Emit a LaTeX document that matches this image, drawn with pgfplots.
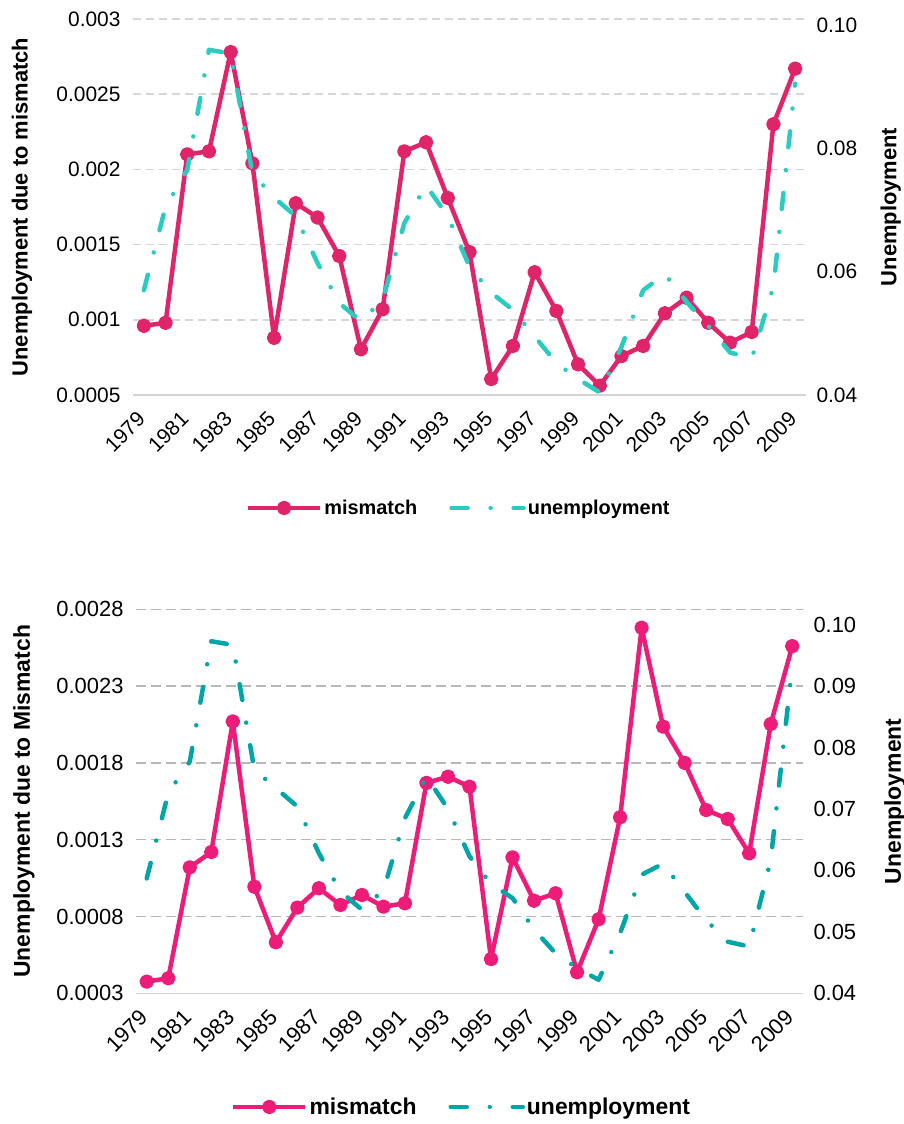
\documentclass[border=0pt]{standalone}
\usepackage{fontspec}
\setmainfont{Liberation Sans}
\usepackage{pgfplots}
\pgfplotsset{compat=1.18}

\definecolor{pinkA}{HTML}{E0246A}
\definecolor{tealA}{HTML}{2CCBBF}
\definecolor{pinkB}{HTML}{EC1C78}
\definecolor{tealB}{HTML}{00A5A8}

\pgfplotsset{
  base/.style={
    scale only axis,
    anchor=south west,
    xmin=1978.5, xmax=2009.5,
    major tick length=0pt,
    tick style={draw=none},
    clip=false,
    scaled y ticks=false,
    scaled x ticks=false,
    ticklabel style={font=\fontsize{21}{25}\selectfont},
    label style={font=\bfseries\fontsize{22}{26}\selectfont},
  },
  leftax/.style={
    base,
    separate axis lines,
    axis x line*=bottom,
    axis y line*=left,
    x axis line style={draw=black!17, line width=1.5bp, -},
    y axis line style={draw=none},
    xtick={1979,1981,...,2009},
    xticklabels={1979,1981,1983,1985,1987,1989,1991,1993,1995,1997,1999,2001,2003,2005,2007,2009},
    xticklabel style={rotate=45, anchor=east},
    xticklabel shift=18bp,
    yticklabel style={xshift=-9bp},
    ymajorgrids,
    legend columns=2,
    legend cell align=left,
    legend style={draw=none, fill=none, font=\bfseries\fontsize{20}{24}\selectfont,
      /tikz/every even column/.append style={column sep=30bp}},
    legend image code/.code={\draw[mark repeat=2,mark phase=2,##1] plot coordinates {(0bp,0bp) (36bp,0bp) (72bp,0bp)};},
  },
  rightax/.style={
    base,
    axis x line=none,
    axis y line*=right,
    y axis line style={draw=none},
    xtick=\empty,
    yticklabel style={xshift=7bp, anchor=west},
  },
  mis/.style={line width=4.5bp, line join=round, mark=*, mark size=5bp, mark options={solid}},
  une/.style={line width=4.5bp, line cap=round, line join=round, dash pattern=on 16bp off 23bp on 0.01bp off 23bp},
}

\begin{document}
\begin{tikzpicture}
\useasboundingbox (0,0) rectangle (904bp,1124bp);

% ---------------- top panel ----------------
\begin{axis}[leftax, at={(133bp,729bp)}, width=673bp, height=376bp,
  ymin=0.0005, ymax=0.003,
  ytick={0.0005,0.001,0.0015,0.002,0.0025,0.003},
  yticklabels={0.0005,0.001,0.0015,0.002,0.0025,0.003},
  grid style={draw=black!16, line width=1.5bp, dash pattern=on 8bp off 5bp},
  ylabel={Unemployment due to mismatch},
  ylabel style={at={(axis description cs:-0.165,0.5)}, anchor=center},
  legend style={at={(axis description cs:0.484,-0.3005)}, anchor=center},
]
\addplot[mis, color=pinkA, mark options={fill=pinkA}] coordinates {
(1979,0.00096) (1980,0.00098) (1981,0.00210) (1982,0.00212) (1983,0.00278)
(1984,0.00204) (1985,0.00088) (1986,0.001775) (1987,0.00168) (1988,0.001424)
(1989,0.000804) (1990,0.00107) (1991,0.00212) (1992,0.00218) (1993,0.00181)
(1994,0.00145) (1995,0.000606) (1996,0.000826) (1997,0.001316) (1998,0.001059)
(1999,0.000704) (2000,0.000562) (2001,0.000759) (2002,0.000826) (2003,0.001043)
(2004,0.001147) (2005,0.00098) (2006,0.000848) (2007,0.000919) (2008,0.0023)
(2009,0.00267)};
\addlegendimage{une, color=tealA}
\legend{mismatch, unemployment}
\end{axis}

\begin{axis}[rightax, at={(133bp,729bp)}, width=673bp, height=376bp,
  ymin=0.04, ymax=0.101,
  ytick={0.04,0.06,0.08,0.10},
  yticklabels={0.04,0.06,0.08,0.10},
  ylabel={Unemployment},
  ylabel style={at={(axis description cs:1.126,0.5)}, anchor=center},
]
\addplot[une, color=tealA] coordinates {
(1979,0.057) (1980,0.0705) (1981,0.0765) (1982,0.096) (1983,0.0954)
(1984,0.076) (1985,0.072) (1986,0.069) (1987,0.0614) (1988,0.0549)
(1989,0.052) (1990,0.0554) (1991,0.0679) (1992,0.074) (1993,0.069)
(1994,0.0608) (1995,0.0566) (1996,0.0538) (1997,0.0495) (1998,0.0452)
(1999,0.0426) (2000,0.0404) (2001,0.0478) (2002,0.057) (2003,0.0596)
(2004,0.0551) (2005,0.0512) (2006,0.0469) (2007,0.0459) (2008,0.0576)
(2009,0.0905)};
\end{axis}

% ---------------- bottom panel ----------------
\begin{axis}[leftax, at={(136bp,130.7bp)}, width=667bp, height=384bp,
  ymin=0.0003, ymax=0.0028,
  ytick={0.0003,0.0008,0.0013,0.0018,0.0023,0.0028},
  yticklabels={0.0003,0.0008,0.0013,0.0018,0.0023,0.0028},
  grid style={draw=black!28, line width=1.5bp, dash pattern=on 10bp off 5bp},
  ticklabel style={font=\fontsize{22}{26}\selectfont},
  label style={font=\bfseries\fontsize{23}{27}\selectfont},
  ylabel={Unemployment due to Mismatch},
  ylabel style={at={(axis description cs:-0.168,0.5)}, anchor=center},
  legend style={at={(axis description cs:0.488,-0.296)}, anchor=center, font=\bfseries\fontsize{23}{27}\selectfont},
]
\addplot[mis, color=pinkB, mark options={fill=pinkB}] coordinates {
(1979,0.000376) (1980,0.000398) (1981,0.00112) (1982,0.00122) (1983,0.00207)
(1984,0.000994) (1985,0.000632) (1986,0.000858) (1987,0.000984) (1988,0.000875)
(1989,0.00094) (1990,0.000864) (1991,0.000886) (1992,0.00167) (1993,0.00171)
(1994,0.001645) (1995,0.000523) (1996,0.001185) (1997,0.000903) (1998,0.000951)
(1999,0.000437) (2000,0.000782) (2001,0.001446) (2002,0.00268) (2003,0.002036)
(2004,0.0018) (2005,0.001493) (2006,0.001435) (2007,0.001211) (2008,0.002053)
(2009,0.00256)};
\addlegendimage{une, color=tealB}
\legend{mismatch, unemployment}
\end{axis}

\begin{axis}[rightax, at={(136bp,130.7bp)}, width=667bp, height=384bp,
  ymin=0.04, ymax=0.1025,
  ytick={0.04,0.05,0.06,0.07,0.08,0.09,0.10},
  yticklabels={0.04,0.05,0.06,0.07,0.08,0.09,0.10},
  ticklabel style={font=\fontsize{22}{26}\selectfont},
  label style={font=\bfseries\fontsize{23}{27}\selectfont},
  ylabel={Unemployment},
  ylabel style={at={(axis description cs:1.138,0.5)}, anchor=center},
]
\addplot[une, color=tealB] coordinates {
(1979,0.0587) (1980,0.0726) (1981,0.0777) (1982,0.0973) (1983,0.0967)
(1984,0.0764) (1985,0.0734) (1986,0.0704) (1987,0.0628) (1988,0.0566)
(1989,0.0536) (1990,0.0568) (1991,0.0685) (1992,0.0753) (1993,0.070)
(1994,0.0623) (1995,0.0578) (1996,0.0555) (1997,0.0504) (1998,0.0465)
(1999,0.0441) (2000,0.0422) (2001,0.0498) (2002,0.0593) (2003,0.0611)
(2004,0.0565) (2005,0.0519) (2006,0.0484) (2007,0.0476) (2008,0.0617)
(2009,0.0932)};
\end{axis}
\end{tikzpicture}
\end{document}
